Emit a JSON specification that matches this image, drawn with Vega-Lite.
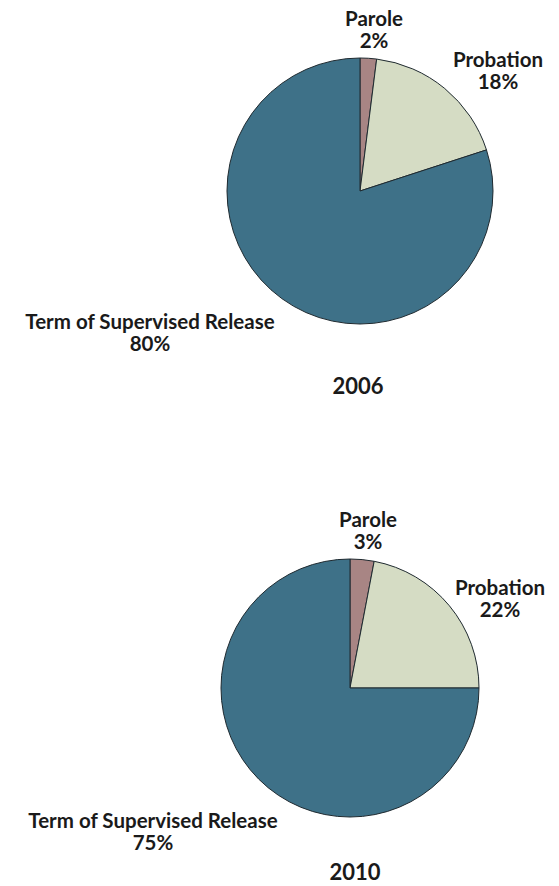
{
  "$schema": "https://vega.github.io/schema/vega-lite/v6.json",
  "width": 559,
  "height": 886,
  "autosize": {"type": "fit", "contains": "padding"},
  "padding": 0,
  "background": "white",
  "config": {
    "view": {"stroke": null},
    "text": {"font": "Lato", "fontWeight": "bold", "fontSize": 20.5, "color": "#1a1a1a", "align": "center", "baseline": "middle", "lineHeight": 22}
  },
  "data": {
    "values": [
      {"year": 2006, "category": "Parole", "value": 0.02},
      {"year": 2006, "category": "Probation", "value": 0.18},
      {"year": 2006, "category": "Term of Supervised Release", "value": 0.80},
      {"year": 2010, "category": "Parole", "value": 0.03},
      {"year": 2010, "category": "Probation", "value": 0.22},
      {"year": 2010, "category": "Term of Supervised Release", "value": 0.75}
    ]
  },
  "transform": [
    {"calculate": "[datum.category, format(datum.value, '.0%')]", "as": "label"}
  ],
  "encoding": {
    "x": {"field": "year", "type": "quantitative", "scale": {"domain": [2006, 2010], "range": [360, 350], "zero": false, "nice": false}, "axis": null},
    "y": {"field": "year", "type": "quantitative", "scale": {"domain": [2006, 2010], "range": [191, 688], "zero": false, "nice": false}, "axis": null}
  },
  "layer": [
    {
      "transform": [{"filter": "datum.year === 2006"}],
      "mark": {"type": "arc", "outerRadius": 133, "stroke": "#1f2a30", "strokeWidth": 1},
      "encoding": {
        "theta": {"field": "value", "type": "quantitative", "stack": true, "scale": {"domain": [0, 1]}},
        "order": {"field": "category", "sort": "ascending"},
        "color": {"field": "category", "type": "nominal", "legend": null, "scale": {"domain": ["Parole", "Probation", "Term of Supervised Release"], "range": ["#a88584", "#d5dcc4", "#3e7188"]}}
      }
    },
    {
      "transform": [{"filter": "datum.year === 2010"}],
      "mark": {"type": "arc", "outerRadius": 129, "stroke": "#1f2a30", "strokeWidth": 1},
      "encoding": {
        "theta": {"field": "value", "type": "quantitative", "stack": true, "scale": {"domain": [0, 1]}},
        "order": {"field": "category", "sort": "ascending"},
        "color": {"field": "category", "type": "nominal", "legend": null}
      }
    },
    {
      "transform": [{"filter": "datum.year === 2006 && datum.category === 'Parole'"}],
      "mark": {"type": "text", "dx": 14, "dy": -171},
      "encoding": {"text": {"field": "label"}}
    },
    {
      "transform": [{"filter": "datum.year === 2006 && datum.category === 'Probation'"}],
      "mark": {"type": "text", "dx": 138, "dy": -130},
      "encoding": {"text": {"field": "label"}}
    },
    {
      "transform": [{"filter": "datum.year === 2006 && datum.category === 'Term of Supervised Release'"}],
      "mark": {"type": "text", "dx": -210, "dy": 132},
      "encoding": {"text": {"field": "label"}}
    },
    {
      "transform": [{"filter": "datum.year === 2006 && datum.category === 'Parole'"}],
      "mark": {"type": "text", "dx": -2, "dy": 196, "fontSize": 22},
      "encoding": {"text": {"field": "year", "type": "nominal"}}
    },
    {
      "transform": [{"filter": "datum.year === 2010 && datum.category === 'Parole'"}],
      "mark": {"type": "text", "dx": 18, "dy": -167},
      "encoding": {"text": {"field": "label"}}
    },
    {
      "transform": [{"filter": "datum.year === 2010 && datum.category === 'Probation'"}],
      "mark": {"type": "text", "dx": 150, "dy": -99},
      "encoding": {"text": {"field": "label"}}
    },
    {
      "transform": [{"filter": "datum.year === 2010 && datum.category === 'Term of Supervised Release'"}],
      "mark": {"type": "text", "dx": -197, "dy": 134},
      "encoding": {"text": {"field": "label"}}
    },
    {
      "transform": [{"filter": "datum.year === 2010 && datum.category === 'Parole'"}],
      "mark": {"type": "text", "dx": 5, "dy": 185, "fontSize": 22},
      "encoding": {"text": {"field": "year", "type": "nominal"}}
    }
  ]
}
